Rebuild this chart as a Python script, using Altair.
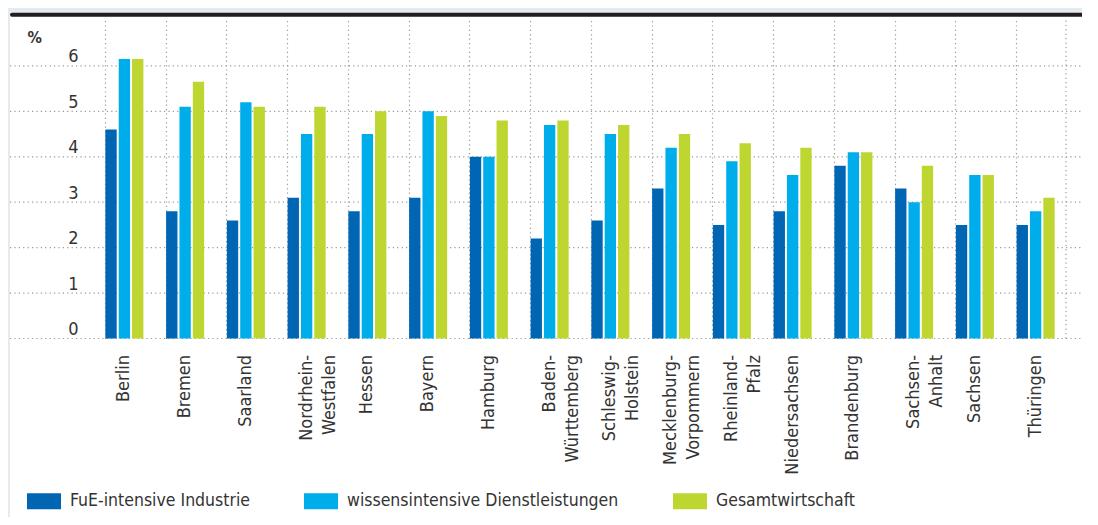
import altair as alt
import pandas as pd

states = ["Berlin", "Bremen", "Saarland", "Nordrhein-Westfalen", "Hessen", "Bayern",
          "Hamburg", "Baden-Württemberg", "Schleswig-Holstein", "Mecklenburg-Vorpommern",
          "Rheinland-Pfalz", "Niedersachsen", "Brandenburg", "Sachsen-Anhalt", "Sachsen",
          "Thüringen"]
series = ["FuE-intensive Industrie", "wissensintensive Dienstleistungen", "Gesamtwirtschaft"]
fue = [4.6, 2.8, 2.6, 3.1, 2.8, 3.1, 4.0, 2.2, 2.6, 3.3, 2.5, 2.8, 3.8, 3.3, 2.5, 2.5]
wissen = [6.15, 5.1, 5.2, 4.5, 4.5, 5.0, 4.0, 4.7, 4.5, 4.2, 3.9, 3.6, 4.1, 3.0, 3.6, 2.8]
gesamt = [6.15, 5.65, 5.1, 5.1, 5.0, 4.9, 4.8, 4.8, 4.7, 4.5, 4.3, 4.2, 4.1, 3.8, 3.6, 3.1]
colors = ["#0066b3", "#00adeb", "#bed62f"]
y_ticks = [0, 1, 2, 3, 4, 5, 6]

rows = []
for name, vals in zip(series, [fue, wissen, gesamt]):
    for s, v in zip(states, vals):
        rows.append({"state": s, "series": name, "value": v})
df = pd.DataFrame(rows)
grid_df = pd.DataFrame({"value": y_ticks})
one = pd.DataFrame({"d": [0]})

FONT = "DejaVu Sans Condensed"
TXT = "#333333"
GRID = "#9a9a9a"

yscale = alt.Scale(domain=[0, 7], nice=False, zero=True)
yaxis = alt.Axis(values=y_ticks, title="%", titleAngle=0, titleX=-67, titleY=22,
                 titleAlign="left", titleBaseline="alphabetic", titleFont=FONT,
                 titleFontSize=16, titleFontWeight="bold", titleColor=TXT,
                 labelFont=FONT, labelFontSize=18, labelColor=TXT,
                 labelBaseline="alphabetic", labelOffset=-4, labelPadding=16,
                 labelAlign="right", ticks=False, tickSize=0, domain=False, grid=False)

label_expr = ("indexof(datum.label, '-') > 0 ? "
              "[slice(datum.label, 0, indexof(datum.label, '-') + 1), "
              "slice(datum.label, indexof(datum.label, '-') + 1) + '\u2002'] : datum.label")

xaxis = alt.Axis(title=None, labelAngle=270, labelAlign="right", labelBaseline="middle",
                 labelPadding=16, labelFont=FONT, labelFontSize=18, labelColor=TXT,
                 labelLineHeight=23, labelLimit=300, labelExpr=label_expr,
                 ticks=False, tickSize=0, domain=False, grid=True,
                 gridDash=[1.2, 3.2], gridColor=GRID, gridWidth=1.2, bandPosition=0)

top_strip = alt.Chart(one).mark_rect(color="#e3ebf1").encode(
    x=alt.value(-100), x2=alt.value(1100), y=alt.value(-30), y2=alt.value(-4))
left_strip = alt.Chart(one).mark_rect(color="#e3ebf1").encode(
    x=alt.value(-100), x2=alt.value(-84), y=alt.value(-30), y2=alt.value(600))
black_line = alt.Chart(one).mark_rule(color="#231f20", strokeWidth=4, strokeCap="round").encode(
    x=alt.value(-82), x2=alt.value(1100), y=alt.value(-5.7))

hgrid = alt.Chart(grid_df).mark_rule(color=GRID, strokeWidth=1.2, strokeDash=[1.2, 3.2]).encode(
    y=alt.Y("value:Q", scale=yscale, axis=yaxis),
    x=alt.value(-84), x2=alt.value(1100))

vend = alt.Chart(one).mark_rule(color=GRID, strokeWidth=1.2, strokeDash=[1.2, 3.2]).encode(
    x=alt.value(972), y=alt.value(0), y2=alt.value(318))

bars = alt.Chart(df).mark_bar().encode(
    x=alt.X("state:N", sort=states,
            scale=alt.Scale(paddingInner=0.374, paddingOuter=0.187), axis=xaxis),
    xOffset=alt.XOffset("series:N", sort=series, scale=alt.Scale(paddingInner=0.15)),
    y=alt.Y("value:Q", scale=yscale, axis=yaxis),
    color=alt.Color("series:N", scale=alt.Scale(domain=series, range=colors),
                    legend=alt.Legend(orient="none", legendX=-67, legendY=463.5,
                                      direction="horizontal", title=None,
                                      symbolType="M-1,-0.47H1V0.47H-1Z", symbolSize=1156,
                                      symbolStrokeWidth=0, symbolOpacity=1,
                                      labelFont=FONT, labelFontSize=17.5, labelColor=TXT,
                                      labelOffset=9, columnPadding=54, labelLimit=400,
                                      padding=0)),
)

chart = alt.layer(top_strip, left_strip, black_line, hgrid, vend, bars).properties(
    width=972, height=318,
    padding={"left": 86, "top": 12.5, "right": 16, "bottom": 178.5},
    autosize=alt.AutoSizeParams(type="none"),
    background="white",
).configure_view(strokeWidth=0)

chart.save("out.html", embed_options={"renderer": "svg", "actions": False})
